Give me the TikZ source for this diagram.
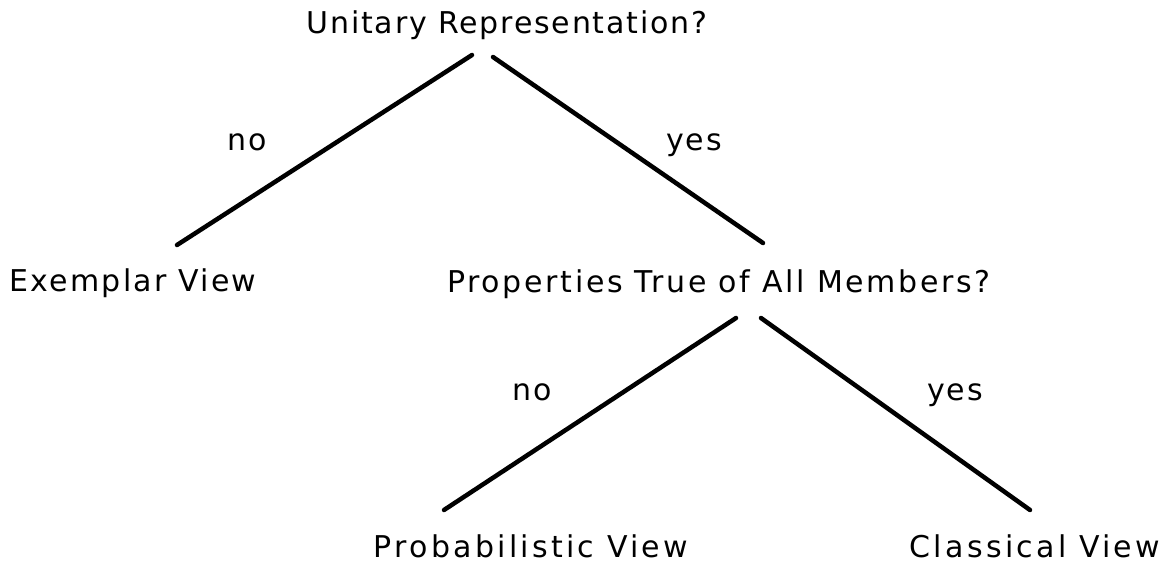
\documentclass[tikz,border=0pt]{standalone}
\usepackage{fontspec}
\setmainfont{DejaVu Sans}[LetterSpace=6]
\newfontfamily\lsA{DejaVu Sans}[LetterSpace=7.4]
\newfontfamily\lsB{DejaVu Sans}[LetterSpace=8.8]
\newfontfamily\lsC{DejaVu Sans}[LetterSpace=10.9]
\begin{document}
\begin{tikzpicture}[x=1pt,y=-1pt,
  lbl/.style={anchor=base,inner sep=0pt,font=\fontsize{30}{34}\selectfont},
  branch/.style={line width=4.5pt,line cap=round}]
\useasboundingbox (0,0) rectangle (1173,565);
\node[lbl] (q1) at (507,33) {Unitary Representation?};
\node[lbl] (ex) at (133,291) {\lsA Exemplar View};
\node[lbl] (q2) at (719,292) {\lsB Properties True of All Members?};
\node[lbl] (pr) at (531,557) {\lsC Probabilistic View};
\node[lbl] (cl) at (1035,557) {\lsC Classical View};
\node[lbl] (n1) at (247,150) {no};
\node[lbl] (y1) at (694,150) {yes};
\node[lbl] (n2) at (532,400) {no};
\node[lbl] (y2) at (955,400) {yes};
\coordinate (a1) at (472,55);
\coordinate (b1) at (177,245);
\coordinate (a2) at (493,57);
\coordinate (b2) at (763,243);
\coordinate (a3) at (736,318);
\coordinate (b3) at (444,510);
\coordinate (a4) at (761,318);
\coordinate (b4) at (1030,510);
\draw[branch] (a1) -- (b1);
\draw[branch] (a2) -- (b2);
\draw[branch] (a3) -- (b3);
\draw[branch] (a4) -- (b4);
\end{tikzpicture}
\end{document}
